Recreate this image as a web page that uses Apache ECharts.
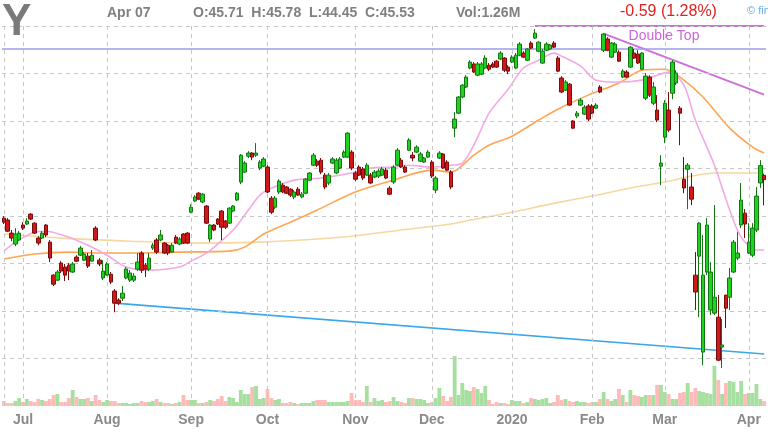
<!DOCTYPE html>
<html><head><meta charset="utf-8">
<script src="https://cdn.jsdelivr.net/npm/echarts@6/dist/echarts.min.js"></script>
<style>html,body{margin:0;padding:0;background:#fff}#c{width:768px;height:432px}</style>
</head><body><div id="c"></div>
<script>
const dates = [
'2019-06-24','2019-06-25','2019-06-26','2019-06-27','2019-06-28',
'2019-07-01','2019-07-02','2019-07-03','2019-07-05','2019-07-08','2019-07-09','2019-07-10','2019-07-11','2019-07-12','2019-07-15','2019-07-16','2019-07-17','2019-07-18','2019-07-19','2019-07-22','2019-07-23','2019-07-24','2019-07-25','2019-07-26','2019-07-29','2019-07-30','2019-07-31',
'2019-08-01','2019-08-02','2019-08-05','2019-08-06','2019-08-07','2019-08-08','2019-08-09','2019-08-12','2019-08-13','2019-08-14','2019-08-15','2019-08-16','2019-08-19','2019-08-20','2019-08-21','2019-08-22','2019-08-23','2019-08-26','2019-08-27','2019-08-28','2019-08-29','2019-08-30',
'2019-09-03','2019-09-04','2019-09-05','2019-09-06','2019-09-09','2019-09-10','2019-09-11','2019-09-12','2019-09-13','2019-09-16','2019-09-17','2019-09-18','2019-09-19','2019-09-20','2019-09-23','2019-09-24','2019-09-25','2019-09-26','2019-09-27','2019-09-30',
'2019-10-01','2019-10-02','2019-10-03','2019-10-04','2019-10-07','2019-10-08','2019-10-09','2019-10-10','2019-10-11','2019-10-14','2019-10-15','2019-10-16','2019-10-17','2019-10-18','2019-10-21','2019-10-22','2019-10-23','2019-10-24','2019-10-25','2019-10-28','2019-10-29','2019-10-30','2019-10-31',
'2019-11-01','2019-11-04','2019-11-05','2019-11-06','2019-11-07','2019-11-08','2019-11-11','2019-11-12','2019-11-13','2019-11-14','2019-11-15','2019-11-18','2019-11-19','2019-11-20','2019-11-21','2019-11-22','2019-11-25','2019-11-26','2019-11-27','2019-11-29',
'2019-12-02','2019-12-03','2019-12-04','2019-12-05','2019-12-06','2019-12-09','2019-12-10','2019-12-11','2019-12-12','2019-12-13','2019-12-16','2019-12-17','2019-12-18','2019-12-19','2019-12-20','2019-12-23','2019-12-24','2019-12-26','2019-12-27','2019-12-30','2019-12-31',
'2020-01-02','2020-01-03','2020-01-06','2020-01-07','2020-01-08','2020-01-09','2020-01-10','2020-01-13','2020-01-14','2020-01-15','2020-01-16','2020-01-17','2020-01-21','2020-01-22','2020-01-23','2020-01-24','2020-01-27','2020-01-28','2020-01-29','2020-01-30','2020-01-31',
'2020-02-03','2020-02-04','2020-02-05','2020-02-06','2020-02-07','2020-02-10','2020-02-11','2020-02-12','2020-02-13','2020-02-14','2020-02-18','2020-02-19','2020-02-20','2020-02-21','2020-02-24','2020-02-25','2020-02-26','2020-02-27','2020-02-28',
'2020-03-02','2020-03-03','2020-03-04','2020-03-05','2020-03-06','2020-03-09','2020-03-10','2020-03-11','2020-03-12','2020-03-13','2020-03-16','2020-03-17','2020-03-18','2020-03-19','2020-03-20','2020-03-23','2020-03-24','2020-03-25','2020-03-26','2020-03-27','2020-03-30','2020-03-31',
'2020-04-01','2020-04-02','2020-04-03','2020-04-06','2020-04-07'];

const monthLabels = ['Jul','Aug','Sep','Oct','Nov','Dec','2020','Feb','Mar','Apr'];

const opens = [43.91,43.83,43.28,42.82,42.99,43.62,43.66,44.08,43.70,43.07,
43.07,43.62,42.90,41.51,41.30,42.02,41.85,41.93,41.64,42.27,
42.35,42.14,42.31,42.10,43.49,42.14,41.39,41.51,41.55,40.84,
40.46,40.54,41.39,41.30,41.30,41.76,42.44,41.93,41.76,42.65,
42.99,42.99,42.86,42.77,42.48,43.11,42.82,43.24,43.28,44.16,
44.63,44.96,44.59,44.42,43.03,43.62,43.87,44.21,43.79,43.70,
44.21,44.67,45.43,45.85,46.52,46.65,46.56,46.02,46.10,46.06,
44.75,44.37,45.01,45.30,45.22,45.13,44.80,45.13,44.80,44.96,
45.51,46.14,46.31,46.35,45.72,45.39,46.23,45.81,46.02,46.48,
46.48,46.69,45.81,46.06,45.98,45.72,45.72,45.64,45.68,45.72,
45.93,45.17,45.43,46.14,46.35,46.06,46.77,46.56,46.69,46.31,
46.27,46.48,46.27,45.09,46.44,46.61,46.27,45.85,47.70,48.33,
49.01,49.43,50.23,50.40,49.93,49.97,50.23,50.35,50.40,50.52,
50.61,50.65,50.27,50.48,50.23,50.77,50.86,50.56,51.28,51.49,
50.94,50.44,50.98,51.03,51.28,50.65,49.81,49.30,49.55,48.00,
48.21,48.67,48.29,48.63,48.63,48.54,49.43,50.98,51.45,50.69,
50.90,50.90,49.85,50.06,50.27,50.86,50.82,50.18,48.96,49.85,
48.75,48.46,46.10,47.32,48.46,49.17,49.60,48.54,45.55,45.97,
45.22,41.51,42.31,38.27,41.64,40.04,39.91,39.74,38.48,40.67,
40.58,41.64,42.23,43.62,44.12,42.44,42.35,43.41,45.39,45.71];

const highs = [43.99,43.91,43.41,43.49,43.37,43.74,43.91,44.12,43.74,43.15,
43.37,43.66,42.99,41.55,41.72,42.10,41.98,42.02,42.06,42.35,
42.73,42.48,42.44,42.57,43.57,42.23,42.14,42.06,41.64,40.92,
40.54,41.05,41.85,41.72,41.60,42.44,42.52,42.02,42.44,42.86,
43.07,43.41,42.90,42.82,42.86,43.20,43.11,43.28,43.32,44.50,
44.88,45.01,44.96,44.46,43.66,43.66,43.91,44.25,43.83,44.37,
44.46,45.01,46.61,46.31,46.73,46.69,47.07,46.35,46.48,46.14,
44.84,44.84,45.55,45.39,45.26,45.17,45.09,45.22,45.01,45.60,
45.85,46.65,46.40,46.44,45.81,45.81,46.48,46.44,46.48,46.77,
47.53,46.77,45.89,46.14,46.06,46.23,45.81,45.93,45.98,46.06,
46.02,45.26,46.14,46.86,46.44,46.14,47.28,46.69,46.98,46.69,
46.48,46.77,46.35,45.68,46.73,46.65,46.35,45.93,48.37,49.05,
49.55,49.93,50.56,50.48,50.48,50.48,50.77,50.44,50.48,50.56,
50.94,50.69,50.35,50.77,50.86,51.32,50.94,51.07,51.36,51.87,
51.36,51.03,51.32,51.24,51.36,50.73,49.89,49.72,49.60,48.04,
48.42,48.96,48.67,48.71,48.71,48.75,49.51,51.70,51.53,51.32,
51.32,50.98,50.18,50.14,51.15,51.03,50.98,50.90,50.02,49.93,
49.64,49.09,46.56,48.88,49.22,50.56,50.14,48.63,46.48,46.23,
45.81,42.48,43.74,43.20,43.91,42.06,44.46,40.67,39.66,40.67,
41.81,42.99,43.32,45.39,44.29,43.70,43.70,45.22,46.35,45.78];

const lows = [43.66,43.32,42.94,42.73,42.94,43.41,43.62,43.83,43.24,42.77,
43.03,43.11,42.06,41.05,41.26,41.60,41.26,41.30,41.60,42.06,
42.31,42.10,41.81,42.06,42.94,41.89,41.30,41.47,41.13,39.95,
40.25,40.42,41.34,41.22,41.22,41.68,41.60,41.43,41.68,42.57,
42.40,42.94,42.40,42.35,42.44,42.82,42.77,42.82,42.82,44.12,
44.59,44.67,44.54,43.66,42.90,43.36,43.62,42.99,43.45,43.66,
44.16,44.63,45.34,45.81,46.44,46.35,46.48,45.93,46.06,44.96,
44.08,44.29,44.92,44.96,44.92,44.80,44.71,44.84,44.75,44.92,
45.47,46.10,46.06,45.76,45.13,45.30,46.19,45.76,45.98,46.44,
46.44,45.93,45.47,45.68,45.51,45.68,45.34,45.60,45.60,45.68,
45.55,44.88,45.34,46.10,46.02,45.81,46.73,46.31,46.65,46.27,
46.23,46.44,45.60,44.96,46.40,45.98,45.89,45.13,47.32,48.29,
48.96,49.39,50.18,50.02,49.89,49.93,50.18,50.10,50.23,50.23,
50.56,50.06,49.97,50.44,50.18,50.73,50.65,50.52,51.03,51.45,
50.90,50.40,50.94,50.98,51.07,50.06,49.17,49.26,48.63,47.66,
48.12,48.63,48.25,48.00,48.29,48.50,49.17,50.90,50.94,50.65,
50.86,50.48,49.81,49.81,50.23,50.61,50.40,50.14,48.88,49.01,
48.67,47.95,45.30,47.07,47.53,48.92,49.51,46.98,44.96,44.29,
44.46,40.04,39.74,37.72,41.51,39.83,39.83,37.89,37.60,39.28,
40.04,41.60,42.14,43.49,43.07,42.40,42.27,43.32,45.18,44.45];

const closes = [43.74,43.36,43.07,43.24,43.28,43.49,43.79,43.87,43.28,42.86,
43.28,43.20,42.23,41.13,41.64,41.68,41.51,41.68,41.98,42.10,
42.65,42.40,41.89,42.35,42.99,41.98,41.68,41.98,41.22,40.33,
40.33,40.75,41.77,41.60,41.47,42.06,41.72,41.76,42.23,42.77,
42.48,43.20,42.44,42.44,42.77,42.86,43.03,42.86,42.86,44.37,
44.80,44.71,44.92,43.70,43.62,43.41,43.66,43.53,43.53,44.33,
44.42,44.96,46.56,46.23,46.65,46.48,46.65,46.27,46.40,45.01,
44.16,44.75,45.47,45.01,44.96,44.88,45.01,44.88,44.92,45.55,
45.81,46.56,46.14,45.85,45.22,45.72,46.40,46.35,46.40,46.69,
47.49,46.02,45.55,45.72,45.60,46.14,45.39,45.85,45.89,45.98,
45.60,44.92,46.06,46.77,46.06,45.85,47.20,46.44,46.90,46.61,
46.44,46.69,45.68,45.60,46.65,46.02,45.93,45.22,48.08,49.01,
49.51,49.85,50.48,50.06,50.40,50.40,50.65,50.18,50.27,50.27,
50.86,50.14,50.10,50.69,50.77,51.24,50.69,51.03,51.07,51.70,
51.32,50.94,51.24,51.20,51.11,50.10,49.22,49.64,48.67,47.70,
48.33,48.88,48.58,48.08,48.33,48.67,49.22,51.66,50.98,51.28,
51.24,50.52,50.10,49.85,51.11,50.65,50.44,50.86,49.89,49.09,
49.43,48.04,46.23,48.75,47.62,50.48,50.02,48.33,45.18,46.14,
44.71,40.80,43.70,41.51,43.62,41.64,40.58,37.93,38.57,40.12,
41.39,42.90,42.44,44.67,43.66,42.90,43.49,44.84,46.12,45.53];

// volume in millions
const volumes = [1.25,0.75,0.75,1.25,2.0,1.0,1.75,1.25,1.0,1.75,
1.5,1.25,1.75,2.75,3.0,1.0,1.0,2.0,4.0,2.25,
1.75,1.75,2.0,1.25,2.75,1.5,1.0,1.5,1.25,1.25,
0.75,0.75,0.75,0.5,0.75,0.75,1.25,1.0,1.0,1.25,
1.75,1.0,0.75,0.75,0.5,0.75,1.0,2.75,1.5,1.5,
1.5,0.75,0.75,1.0,1.5,1.25,1.75,2.5,1.25,2.25,
2.0,1.0,4.0,3.0,3.0,4.75,5.0,1.75,2.0,4.25,
2.0,1.5,1.75,0.75,0.75,1.0,0.75,0.5,0.75,0.75,
0.75,1.25,1.5,1.5,1.5,1.0,1.0,1.0,1.0,1.0,
1.25,3.25,1.5,1.5,1.0,5.0,1.0,2.0,1.25,1.5,
1.0,1.25,2.25,1.25,1.0,0.75,2.0,2.0,1.75,1.75,
1.5,0.75,1.0,2.0,4.5,2.5,1.25,2.25,12.5,2.75,
5.75,4.0,3.75,4.75,4.25,3.25,5.0,1.5,0.5,1.0,
0.75,0.75,0.5,1.5,1.25,1.25,0.75,1.0,2.0,1.75,
1.5,1.75,2.0,0.75,1.0,2.75,1.5,1.75,1.25,1.0,
1.25,1.0,1.0,0.75,1.0,1.0,1.75,3.5,1.75,1.25,
1.75,4.25,2.75,1.0,4.0,2.75,2.5,2.25,2.75,2.75,
2.75,5.25,5.25,3.5,3.0,1.75,1.75,3.25,3.5,5.75,
3.5,4.5,3.75,3.5,3.25,3.0,10.0,6.5,3.0,5.75,
6.25,6.0,3.5,6.25,3.0,3.25,3.25,5.5,1.75,1.26];

const sma20Idx = [0,3,8,11,17,22,27,32,38,46,49,53,56,60,64,67,70,76,83,91,96,102,106,112,117,120,123,127,132,136,140,144,146,151,155,161,167,171,174,178,181,186,190,193,197,199];
const sma20Val = [42.52,42.90,43.32,43.36,43.11,42.77,42.35,41.85,41.72,41.85,42.10,42.44,42.82,43.41,44.25,44.88,45.17,45.51,45.60,45.81,46.02,46.06,46.14,46.06,46.14,46.23,46.98,48.33,49.34,50.23,50.56,50.86,50.73,50.31,49.72,49.64,49.72,49.93,50.06,49.51,48.04,46.14,44.25,43.11,42.57,42.57];
const sma50Idx = [0,8,17,25,34,45,59,63,68,75,82,92,102,112,117,123,127,133,140,146,153,161,167,173,178,183,190,196,199];
const sma50Val = [42.19,42.40,42.48,42.44,42.44,42.48,42.52,42.69,43.24,43.74,44.25,45.01,45.51,45.93,45.85,46.56,46.98,47.36,48.04,48.58,49.09,49.60,50.14,50.18,49.72,49.01,47.70,46.90,46.65];
const sma200Idx = [0,15,33,51,67,78,91,104,117,122,133,143,154,164,173,180,186,199];
const sma200Val = [43.24,43.07,42.94,42.86,42.90,42.99,43.15,43.41,43.66,43.83,44.16,44.50,44.84,45.18,45.43,45.68,45.81,45.81];

// drawn trendlines: [startIndex, startPrice, endIndex, endPrice]
const blueLine = [29, 40.33, 199, 38.19];
const topLine = [139, 52.0, 199, 52.0];
const doubleTopLine = [157, 51.68, 199, 49.11];
const resistanceLevel = 51.05;
const gridLevels = [38,40,42,44,46,48,50,52];

const N = dates.length;
const monthStarts = [];
for (let i = 1; i < N; i++) if (dates[i].slice(5,7) !== dates[i-1].slice(5,7)) monthStarts.push(i);
const labelMap = {};
monthStarts.forEach((ix,k) => labelMap[ix] = monthLabels[k]);

function sparse(idx, vals) { const a = new Array(N).fill(null); idx.forEach((ix,k) => a[ix] = vals[k]); return a; }
function seg(s) { return sparse([s[0], s[2]], [s[1], s[3]]); }

const candleData = dates.map((d,i) => [opens[i], closes[i], lows[i], highs[i]]);
const volData = volumes.map((v,i) => ({value: v, itemStyle: {color: closes[i] >= opens[i] ? '#a6df9f' : '#ffbaba'}}));

const dashed = {color: '#c6c6c6', width: 1, type: [4,4]};
const gridMarks = gridLevels.map(v => ({yAxis: v, lineStyle: dashed}))
  .concat([0].concat(monthStarts).map(ix => ({xAxis: dates[ix], lineStyle: dashed})))
  .concat([{yAxis: resistanceLevel, lineStyle: {color: '#9c9cec', width: 1.6, type: 'solid'}}]);

const FONT = 'Liberation Sans, Arial, sans-serif';
const chart = echarts.init(document.getElementById('c'));
chart.setOption({
  animation: false,
  backgroundColor: '#ffffff',
  grid: [{left: 2, right: 2, top: 26, bottom: 26}, {left: 2, right: 2, top: 26, bottom: 26}],
  xAxis: [
    {type: 'category', data: dates, gridIndex: 0, boundaryGap: true,
     axisLine: {show: false}, axisTick: {show: false}, splitLine: {show: false},
     axisLabel: {interval: (i) => labelMap[i] !== undefined, formatter: (v,i) => labelMap[i] || '',
       color: '#8a8a8a', fontSize: 14, fontWeight: 'bold', fontFamily: FONT, margin: 7}},
    {type: 'category', data: dates, gridIndex: 1, boundaryGap: true, show: false}
  ],
  yAxis: [
    {type: 'value', gridIndex: 0, min: 36, max: 52, show: false},
    {type: 'value', gridIndex: 1, min: 0, max: 95, show: false}
  ],
  series: [
    {type: 'line', xAxisIndex: 0, yAxisIndex: 0, data: new Array(N).fill(null), z: 1, silent: true,
     markLine: {silent: true, symbol: ['none','none'], label: {show: false}, animation: false, data: gridMarks}},
    {type: 'bar', xAxisIndex: 1, yAxisIndex: 1, data: volData, barCategoryGap: '0%', z: 2, silent: true},
    {type: 'line', data: sparse(sma200Idx, sma200Val), connectNulls: true, showSymbol: false, smooth: 0.3, z: 3,
     lineStyle: {color: '#f7d7a0', width: 1.6}},
    {type: 'line', data: sparse(sma50Idx, sma50Val), connectNulls: true, showSymbol: false, smooth: 0.3, z: 3,
     lineStyle: {color: '#ffa552', width: 1.6}},
    {type: 'line', data: sparse(sma20Idx, sma20Val), connectNulls: true, showSymbol: false, smooth: 0.3, z: 3,
     lineStyle: {color: '#f4a8e6', width: 1.6}},
    {type: 'line', data: seg(blueLine), connectNulls: true, showSymbol: false, z: 3, clip: false,
     lineStyle: {color: '#3aa7ea', width: 1.6}},
    {type: 'line', data: seg(topLine), connectNulls: true, showSymbol: false, z: 3, clip: false,
     lineStyle: {color: '#cf6fd8', width: 2}},
    {type: 'line', data: seg(doubleTopLine), connectNulls: true, showSymbol: false, z: 3, clip: false,
     lineStyle: {color: '#cf6fd8', width: 2}},
    {type: 'candlestick', data: candleData, barWidth: 4, z: 5,
     itemStyle: {color: '#1fd21f', color0: '#d01818', borderColor: '#137513', borderColor0: '#780b0b', borderWidth: 1}}
  ],
  graphic: [
    {type: 'text', left: 2, top: 1, z: 10, style: {text: 'Y', font: 'bold 44px ' + FONT, fill: '#7a7a7a'}},
    {type: 'text', x: 107, y: 13, z: 10, style: {text: 'Apr 07', font: 'bold 14px ' + FONT, fill: '#808080', textVerticalAlign: 'middle'}},
    {type: 'text', x: 193, y: 13, z: 10, style: {text: 'O:45.71  H:45.78  L:44.45  C:45.53', font: 'bold 14px ' + FONT, fill: '#808080', textVerticalAlign: 'middle'}},
    {type: 'text', x: 456, y: 13, z: 10, style: {text: 'Vol:1.26M', font: 'bold 14px ' + FONT, fill: '#808080', textVerticalAlign: 'middle'}},
    {type: 'text', x: 620, y: 12, z: 10, style: {text: '-0.59 (1.28%)', font: '16px ' + FONT, fill: '#dd2222', textVerticalAlign: 'middle'}},
    {type: 'text', x: 747, y: 11, z: 10, style: {text: '\u00a9 finviz', font: '11px ' + FONT, fill: '#6aaee2', textVerticalAlign: 'middle'}},
    {type: 'text', x: 664, y: 36, z: 10, style: {text: 'Double Top', font: '14px ' + FONT, fill: '#cc66dd', textAlign: 'center', textVerticalAlign: 'middle'}}
  ]
});
</script>
</body></html>
